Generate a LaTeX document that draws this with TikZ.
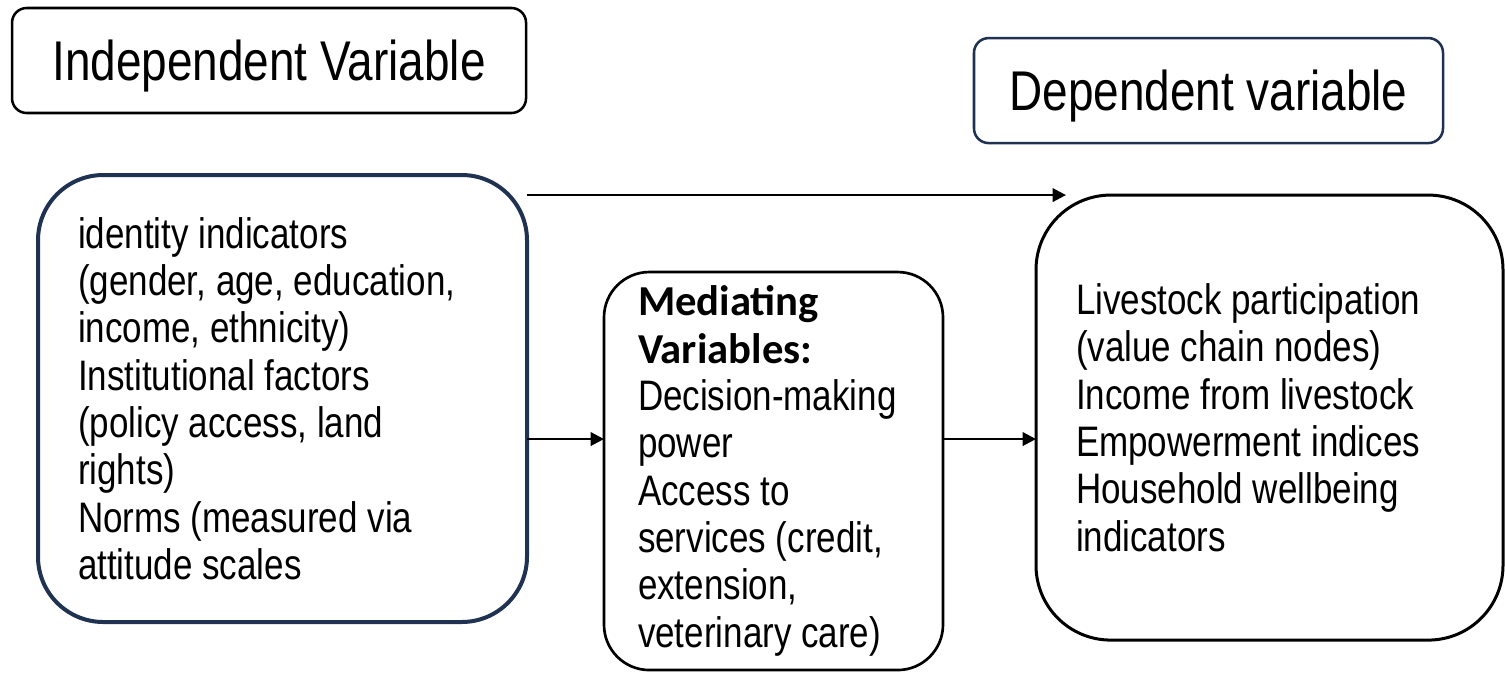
\documentclass[tikz,border=0pt]{standalone}
\usepackage{fontspec}
\setmainfont{Liberation Sans}[FakeStretch=0.82]
\newfontfamily\medfont{Carlito}
\usetikzlibrary{positioning, arrows.meta}
\definecolor{navy}{HTML}{1F3252}
\newcommand\medhead[1]{{\medfont\bfseries #1}}

\begin{document}
\begin{tikzpicture}[
        x=0.75pt, y=-0.75pt,
        T/.style = {draw, line width=1.9pt, rounded corners=11pt, outer sep=0pt, minimum height=78.75pt, text depth=0pt, font=\fontsize{42}{50}\selectfont},
        V/.style = {draw, outer sep=0pt, inner ysep=0pt, align=flush left, font=\fontsize{32}{35.5}\selectfont},
        arrow/.style = {-{Triangle[length=10pt, width=10pt]}, line width=1.9pt}
    ]
        \useasboundingbox (0,0) rectangle (1505,672);

        \node[V, navy, text=black, line width=3pt, rounded corners=49pt, minimum width=366.75pt, minimum height=335.25pt, inner xsep=30pt, text width=306.75pt] (Ind) at (282.5,398.5)
            {identity indicators\\ (gender, age, education,\\ income, ethnicity)\\ Institutional factors\\ (policy access, land\\ rights)\\ Norms (measured via\\ attitude scales};

        \node[V, line width=2pt, rounded corners=34pt, minimum width=254.25pt, minimum height=298.5pt, inner xsep=25.5pt, text width=203.25pt, right=57.75pt of Ind, yshift=-54.4pt] (Med)
            {\medhead{Mediating}\\ \medhead{Variables:}\\ Decision-making\\ power\\ Access to\\ services (credit,\\ extension,\\ veterinary care)};

        \node[V, line width=2.25pt, rounded corners=56pt, minimum width=350.25pt, minimum height=333.75pt, inner xsep=30pt, text width=290.25pt, right=69.75pt of Med, yshift=40.1pt] (Dep)
            {Livestock participation\\ (value chain nodes)\\ Income from livestock\\ Empowerment indices\\ Household wellbeing\\ indicators};

        \node[T, minimum width=385.5pt, above=46.5pt of Ind, xshift=-10.1pt] (IndT) {Independent Variable};
        \node[T, navy, text=black, minimum width=351.75pt, above=39pt of Dep, xshift=-45.75pt] (DepT) {Dependent variable};

        \coordinate[below=30.4pt of Ind.east] (mid);
        \coordinate[right=22.5pt of Dep.north west] (tip);

        \draw[arrow] (Ind.east |- tip) -- (tip);
        \draw[arrow] (Ind.east |- mid) -- (Med.west |- mid);
        \draw[arrow] (Med.east |- mid) -- (Dep.west |- mid);

    \end{tikzpicture}
\end{document}
